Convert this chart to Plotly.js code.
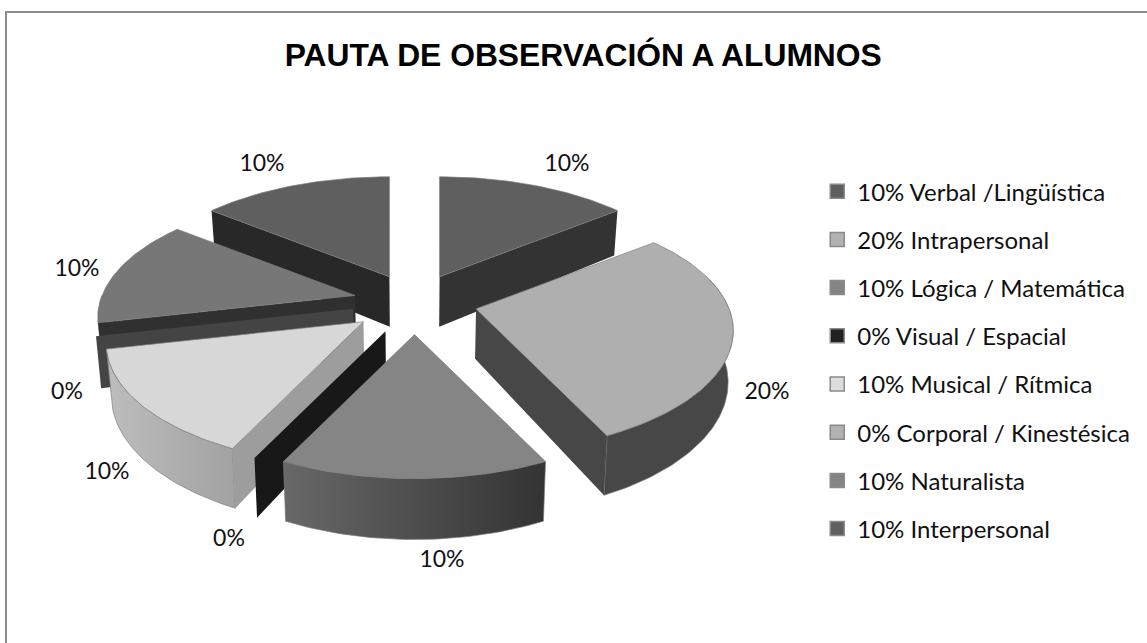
<!DOCTYPE html>
<html>
<head>
<meta charset="utf-8">
<script src="https://cdn.plot.ly/plotly-3.0.1.min.js"></script>
<style>html,body{margin:0;padding:0;background:#fff}#chart{width:1147px;height:643px}</style>
</head>
<body>
<div id="chart"></div>
<script>
// ---- data ----
const categories = ['Verbal /Lingüística','Intrapersonal','Lógica / Matemática','Visual / Espacial','Musical / Rítmica','Corporal / Kinestésica','Naturalista','Interpersonal'];
const values = [10,20,10,0,10,0,10,10];

// ---- styles ----
const topColors  = ['#5f5f5f','#afafaf','#858585','#181818','#d7d7d7','#444444','#777777','#5f5f5f'];
const legendColors = ['#5f5f5f','#b2b2b2','#858585','#222222','#dcdcdc','#b2b2b2','#858585','#5f5f5f'];
const radialWall = ['#333333','#474747','#3a3a3a','#181818','#9d9d9d','#444444','#303030','#282828'];
const arcWallL   = ['#333333','#474747','#686868','#181818','#bdbdbd','#444444','#303030','#282828'];
const arcWallR   = ['#333333','#474747','#333333','#181818','#a2a2a2','#444444','#303030','#282828'];
const drawOrder  = [7,0,6,5,4,3,1,2];
const labelX = [567,767,442,229,107,67,77,262];
const labelY = [165,393,561,540,473,393,270,165];

// ---- 3D pie projection ----
const CX=414.5, CY=302, EX=62, EY=30, EK=0.08, A=253, B=118, K=0.18, H=50, SHRINK=0.984;
const rad = d => d*Math.PI/180;
function apex(mid){
  const s=Math.sin(rad(mid)), w=-Math.cos(rad(mid)), d=1-EK*w;
  return [CX+EX*s/d, CY+EY*w/d];
}
function rim(a,t){
  const s=Math.sin(rad(t)), w=-Math.cos(rad(t)), d=1-K*w;
  return [a[0]+A*s/d, a[1]+B*w/d, H/d];
}
function low(p,h){ return [CX+(p[0]-CX)*SHRINK, p[1]+h]; }
function poly(pts,fill,line,grad){
  const tr={type:'scatter',mode:'lines',x:pts.map(p=>p[0]),y:pts.map(p=>p[1]),fill:'toself',
    fillcolor:fill,line:{color:line||fill,width:line?0.8:0},hoverinfo:'skip',showlegend:false};
  if(grad) tr.fillgradient={type:'horizontal',colorscale:[[0,grad[0]],[1,grad[1]]]};
  return tr;
}
const total = values.reduce((a,b)=>a+b,0);
const OUT='rgba(125,125,125,0.85)';
const sliceTraces={};
let cum=0;
values.forEach((v,i)=>{
  const t0=cum/total*360, t1=(cum+v)/total*360; cum+=v;
  const mid=(t0+t1)/2, a=apex(mid), aL=low(a,H);
  const wallEdge=t=>{const r=rim(a,t); return [a,[r[0],r[1]],low(r,r[2]),aL,a];};
  const tr=[];
  if(v===0){ tr.push(poly(wallEdge(t0),radialWall[i])); sliceTraces[i]=tr; return; }
  const arcPts=(from,to)=>{const out=[],n=Math.max(12,Math.round(to-from));
    for(let k=0;k<=n;k++) out.push(rim(a,from+(to-from)*k/n)); return out;};
  // front-facing part of the outer wall only
  const f0=Math.max(t0,75), f1=Math.min(t1,270);
  if(f1>f0){
    const fr=arcPts(f0,f1);
    const wall=fr.map(r=>[r[0],r[1]]).concat(fr.slice().reverse().map(r=>low(r,r[2])));
    wall.push(wall[0]);
    tr.push(poly(wall,arcWallL[i],OUT,[arcWallL[i],arcWallR[i]]));
  }
  // radial walls that face the viewer
  if(t1<180) tr.push(poly(wallEdge(t1),radialWall[i]));
  if(t0>180) tr.push(poly(wallEdge(t0),radialWall[i]));
  const arc=arcPts(t0,t1);
  const face=[a].concat(arc.map(r=>[r[0],r[1]]),[a]);
  tr.push(poly(face,topColors[i],OUT));
  sliceTraces[i]=tr;
});
const traces=[];
drawOrder.forEach(i=>traces.push(...sliceTraces[i]));

traces.push({type:'scatter',mode:'text',x:labelX,y:labelY,text:values.map(v=>v+'%'),
  textposition:'middle center',textfont:{family:'Lato, sans-serif',size:23,color:'#111'},hoverinfo:'skip',showlegend:false,cliponaxis:false});

categories.forEach((c,i)=>traces.push({type:'scatter',mode:'markers',x:[null],y:[null],
  name:values[i]+'% '+c,legendgroup:'g'+i,showlegend:true,
  marker:{symbol:'square',size:14,color:legendColors[i],line:{color:'#8a8a8a',width:1.5}}}));

const layout={
  width:1147,height:643,margin:{l:0,r:0,t:0,b:0},paper_bgcolor:'#fff',plot_bgcolor:'#fff',
  title:{text:'<b>PAUTA DE OBSERVACIÓN A ALUMNOS</b>',x:0.5085,xanchor:'center',xref:'paper',y:0.914,yanchor:'middle',
    font:{family:'Liberation Sans, Arial, sans-serif',size:31.8,color:'#000'}},
  xaxis:{range:[0,1147],visible:false,fixedrange:true},
  yaxis:{range:[643,0],visible:false,fixedrange:true},
  legend:{x:0.7125,xanchor:'left',y:0.737,yanchor:'top',traceorder:'grouped',tracegroupgap:14,
    bgcolor:'rgba(0,0,0,0)',borderwidth:0,font:{family:'Lato, sans-serif',size:24,color:'#111'},itemclick:false,itemdoubleclick:false},
  shapes:[
    {type:'line',xref:'x',yref:'y',x0:5,x1:1147,y0:12,y1:12,line:{color:'#8c8c8c',width:2},layer:'below'},
    {type:'line',xref:'x',yref:'y',x0:6,x1:6,y0:11,y1:643,line:{color:'#8c8c8c',width:2},layer:'below'}
  ],
  hovermode:false
};
Plotly.newPlot('chart',traces,layout,{displayModeBar:false,staticPlot:true});
</script>
</body>
</html>
